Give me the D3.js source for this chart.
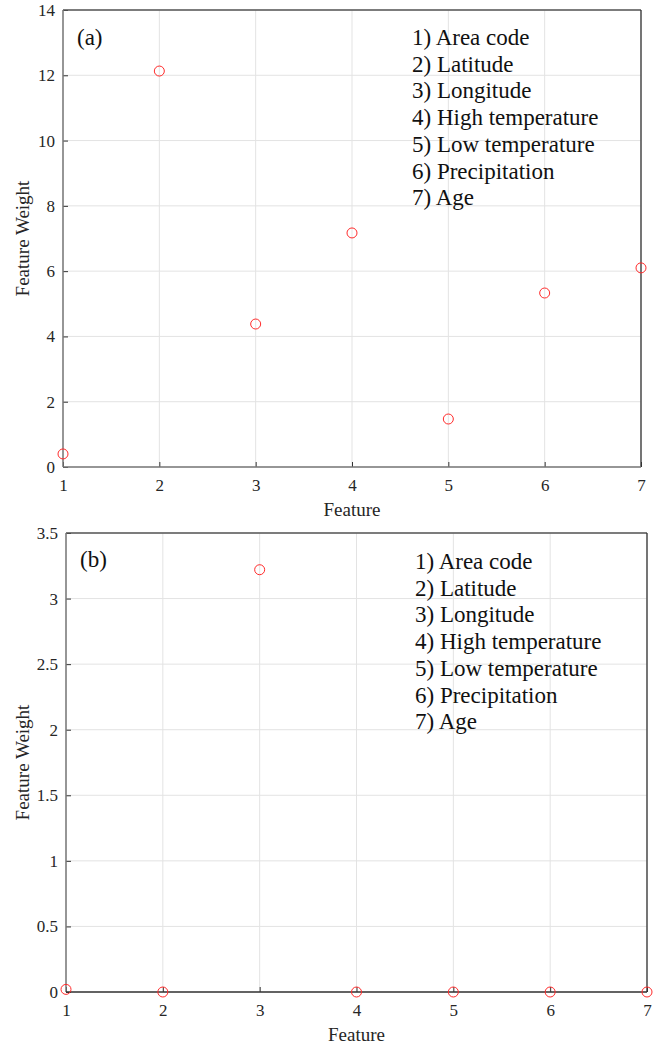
<!DOCTYPE html>
<html>
<head>
<meta charset="utf-8">
<script src="https://cdn.jsdelivr.net/npm/d3@7"></script>
<style>
  body { margin: 0; background: #fff; }
  text { font-family: "Liberation Serif", "Times New Roman", serif; }
</style>
</head>
<body>
<div id="chart"></div>
<script>
"use strict";

const features = [1, 2, 3, 4, 5, 6, 7];
const weightsA = [0.4, 12.13, 4.38, 7.17, 1.47, 5.33, 6.1];
const weightsB = [0.02, 0.0, 3.22, 0.0, 0.0, 0.0, 0.0];
const ticksA = [0, 2, 4, 6, 8, 10, 12, 14];
const ticksB = [0, 0.5, 1, 1.5, 2, 2.5, 3, 3.5];
const legendLines = ["1) Area code", "2) Latitude", "3) Longitude", "4) High temperature",
    "5) Low temperature", "6) Precipitation", "7) Age"];

const W = 659, H = 1045;
const SERIF = "'Liberation Serif', 'Times New Roman', serif";

const svg = d3.select("#chart")
    .append("svg")
    .attr("width", W)
    .attr("height", H);

// one panel of the figure
function panel(box, weights, yTicks, yMax, tag) {
    const x = d3.scaleLinear().domain([1, 7]).range([box.left, box.right]);
    const y = d3.scaleLinear().domain([0, yMax]).range([box.bottom, box.top]);
    const g = svg.append("g");

    // grid
    g.append("g").selectAll("line")
        .data(features)
        .join("line")
        .attr("x1", d => x(d)).attr("x2", d => x(d))
        .attr("y1", box.top).attr("y2", box.bottom)
        .attr("stroke", "#e3e3e3").attr("stroke-width", 1);
    g.append("g").selectAll("line")
        .data(yTicks)
        .join("line")
        .attr("y1", d => y(d)).attr("y2", d => y(d))
        .attr("x1", box.left).attr("x2", box.right)
        .attr("stroke", "#e3e3e3").attr("stroke-width", 1);

    // axes with inward ticks, labels outside
    const xAxis = d3.axisBottom(x).tickValues(features).tickSize(-5).tickPadding(12)
        .tickFormat(d3.format("d"));
    const yAxis = d3.axisLeft(y).tickValues(yTicks).tickSize(-5).tickPadding(8)
        .tickFormat(d => String(d));

    const gx = g.append("g").attr("transform", `translate(0,${box.bottom})`).call(xAxis);
    const gy = g.append("g").attr("transform", `translate(${box.left},0)`).call(yAxis);
    [gx, gy].forEach(a => {
        a.attr("font-family", SERIF).attr("font-size", 17);
        a.select(".domain").remove();
        a.selectAll(".tick line").attr("stroke", "#333");
        a.selectAll(".tick text").attr("fill", "#262626");
    });
    gx.selectAll(".tick text").attr("dy", "0.71em");

    // box frame
    g.append("line").attr("x1", box.left).attr("x2", box.right)
        .attr("y1", box.top).attr("y2", box.top).attr("stroke", "#555").attr("stroke-width", 1.3);
    g.append("line").attr("x1", box.right).attr("x2", box.right)
        .attr("y1", box.top).attr("y2", box.bottom).attr("stroke", "#333").attr("stroke-width", 1.3);
    g.append("line").attr("x1", box.left).attr("x2", box.left)
        .attr("y1", box.top).attr("y2", box.bottom).attr("stroke", "#777").attr("stroke-width", 1.5);
    g.append("line").attr("x1", box.left).attr("x2", box.right)
        .attr("y1", box.bottom).attr("y2", box.bottom).attr("stroke", tag === "(a)" ? "#777" : "#333")
        .attr("stroke-width", 1.5);

    // points
    g.append("g").selectAll("circle")
        .data(features)
        .join("circle")
        .attr("cx", d => x(d))
        .attr("cy", (d, i) => y(weights[i]))
        .attr("r", 5)
        .attr("fill", "none")
        .attr("stroke", "#ff2a2a")
        .attr("stroke-width", 1);

    // panel tag
    g.append("text")
        .attr("x", box.left + 14).attr("y", box.top + box.tagDy)
        .attr("font-family", SERIF).attr("font-size", 23).attr("fill", "#111")
        .text(tag);

    // legend text
    g.append("g").selectAll("text")
        .data(legendLines)
        .join("text")
        .attr("x", box.left + 349)
        .attr("y", (d, i) => box.top + box.legDy + i * 26.7)
        .attr("font-family", SERIF).attr("font-size", 23).attr("fill", "#111")
        .text(d => d);

    // axis labels
    g.append("text")
        .attr("x", (box.left + box.right) / 2).attr("y", box.bottom + 49)
        .attr("text-anchor", "middle")
        .attr("font-family", SERIF).attr("font-size", 19).attr("fill", "#262626")
        .text("Feature");
    g.append("text")
        .attr("transform", `translate(${box.left - box.ylabDx},${(box.top + box.bottom) / 2}) rotate(-90)`)
        .attr("text-anchor", "middle")
        .attr("font-family", SERIF).attr("font-size", 19).attr("fill", "#262626")
        .text("Feature Weight");
}

panel({ left: 63, right: 641, top: 10, bottom: 467, tagDy: 35, legDy: 35, ylabDx: 34 },
    weightsA, ticksA, 14, "(a)");
panel({ left: 66, right: 647, top: 533, bottom: 992, tagDy: 34, legDy: 36, ylabDx: 37 },
    weightsB, ticksB, 3.5, "(b)");
</script>
</body>
</html>
